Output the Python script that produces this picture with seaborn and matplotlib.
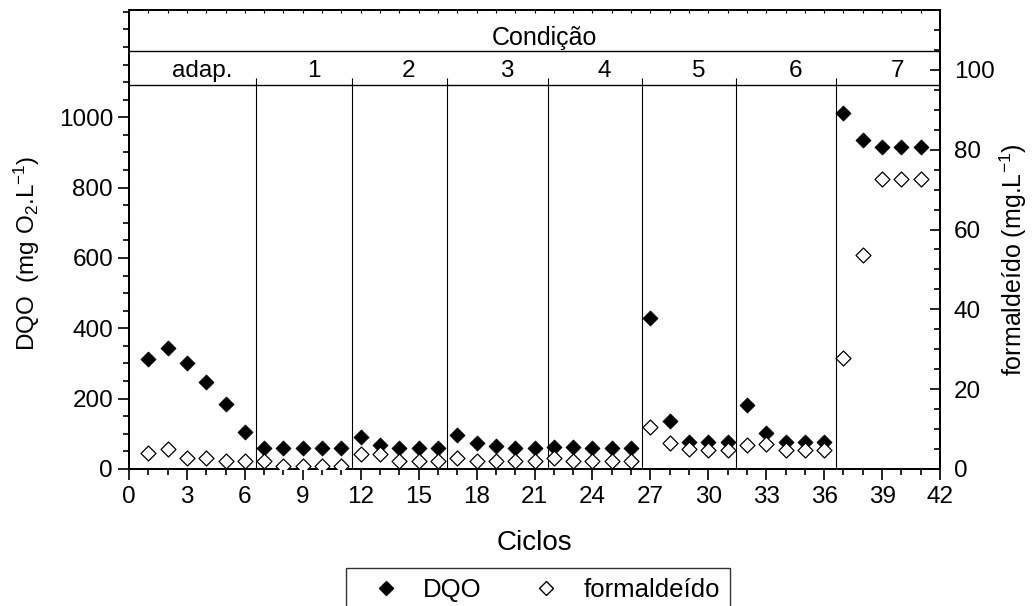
import numpy as np
import pandas as pd
import matplotlib
matplotlib.use('Agg')
import matplotlib.pyplot as plt
import seaborn as sns
from matplotlib.ticker import MultipleLocator, FixedLocator
from matplotlib.lines import Line2D

sns.set_theme(style='ticks')
plt.rcParams['font.family'] = ['Liberation Sans', 'DejaVu Sans']
plt.rcParams['mathtext.default'] = 'regular'
plt.rcParams.update({'text.color': 'black', 'axes.labelcolor': 'black',
                     'xtick.color': 'black', 'ytick.color': 'black',
                     'axes.edgecolor': 'black'})

# data
ciclos = list(range(1, 42))
dqo = [312, 345, 302, 246, 184, 104, 61, 61, 61, 61, 61,
       91, 67, 61, 61, 61,
       98, 74, 64, 61, 61,
       63, 63, 61, 61, 61,
       430, 137, 77, 76, 77,
       182, 103, 77, 77, 77,
       1012, 935, 916, 916, 916]
formaldeido = [3.9, 4.9, 2.7, 2.8, 2.0, 2.0, 2.0, 0.8, 0.8, 0.8, 0.8,
               3.8, 3.7, 2.0, 2.0, 2.0,
               2.7, 2.0, 2.0, 2.0, 2.0,
               2.7, 2.0, 2.0, 2.0, 2.0,
               10.4, 6.6, 4.9, 4.7, 4.7,
               5.9, 6.3, 4.8, 4.8, 4.8,
               27.7, 53.6, 72.6, 72.6, 72.6]
condicoes = ['adap.', '1', '2', '3', '4', '5', '6', '7']
limites = [6.57, 11.54, 16.45, 21.68, 26.59, 31.45, 36.63]

df = pd.DataFrame({'Ciclos': ciclos, 'DQO': dqo, 'formaldeido': formaldeido})

fig = plt.figure(figsize=(10.32, 6.06), dpi=100)
ax = fig.add_axes([0.125, 0.2261, 0.7859, 0.7574])
ax2 = ax.twinx()

sns.scatterplot(data=df, x='Ciclos', y='DQO', ax=ax, marker='D', s=58,
                color='black', edgecolor='black', linewidth=0.6, zorder=5)
sns.scatterplot(data=df, x='Ciclos', y='formaldeido', ax=ax2, marker='D', s=58,
                color='white', edgecolor='black', linewidth=0.9, zorder=5)

ax.set_xlim(0, 42)
ax.set_ylim(0, 1305)
ax2.set_ylim(0, 115)

# header band lines
y_top_data = 1092
y_cond = 1188
ax.axhline(y_top_data, color='black', lw=1.0)
ax.axhline(y_cond, color='black', lw=1.0)
ax.vlines(limites, 0, 1112, color='black', lw=0.8)

edges = [0] + limites + [42]
for i, lab in enumerate(condicoes):
    xm = (edges[i] + edges[i + 1]) / 2 + 0.5
    ax.text(xm, (y_top_data + y_cond) / 2 - 8, lab, ha='center', va='center', fontsize=17.5)
ax.text(21.5, 1226, 'Condição', ha='center', va='center', fontsize=18)

# ticks
ax.xaxis.set_major_locator(MultipleLocator(3))
ax.xaxis.set_minor_locator(MultipleLocator(1))
ax.yaxis.set_major_locator(FixedLocator([0, 200, 400, 600, 800, 1000]))
ax.yaxis.set_minor_locator(MultipleLocator(50))
ax.tick_params(axis='both', which='major', direction='out', length=8, width=1.2, labelsize=17.5)
ax.tick_params(axis='both', which='minor', direction='out', length=4.5, width=1.2)
ax.tick_params(axis='x', pad=4)

ax2.yaxis.set_major_locator(FixedLocator([0, 20, 40, 60, 80, 100]))
ax2.yaxis.set_minor_locator(MultipleLocator(5))
ax2.tick_params(axis='y', which='major', direction='in', length=7, width=1.2, labelsize=17.5, pad=10)
ax2.tick_params(axis='y', which='minor', direction='in', length=4, width=1.2)

top = ax.secondary_xaxis('top')
top.xaxis.set_major_locator(MultipleLocator(1))
top.tick_params(axis='x', which='major', direction='in', length=2.5, width=0.8, labeltop=False)

for a in (ax, ax2):
    for s in a.spines.values():
        s.set_linewidth(1.3)
        s.set_color('black')
top.spines['top'].set_linewidth(1.3)

ax.set_xlabel('Ciclos', fontsize=20, labelpad=16)
ax.set_ylabel('DQO  (mg O$_2$.L$^{-1}$)', fontsize=17.5, va='center')
ax2.set_ylabel('formaldeído (mg.L$^{-1}$)', fontsize=18, va='center')
ax.yaxis.set_label_coords(-0.126, 0.47)
ax2.yaxis.set_label_coords(1.09, 0.455)

handles = [Line2D([], [], ls='none', marker='D', ms=7, mfc='black', mec='black'),
           Line2D([], [], ls='none', marker='D', ms=7, mfc='white', mec='black')]
leg = fig.legend(handles, ['DQO', 'formaldeído'], ncol=2, loc='upper left',
                 bbox_to_anchor=(346 / 1032, 1 - 568 / 606), fontsize=18.5,
                 frameon=True, fancybox=False, edgecolor='black', borderaxespad=0,
                 handlelength=2.3, handletextpad=0.3, columnspacing=1.35, borderpad=0.4)
leg.get_frame().set_linewidth(1.0)

fig.savefig('out.png', dpi=100)
